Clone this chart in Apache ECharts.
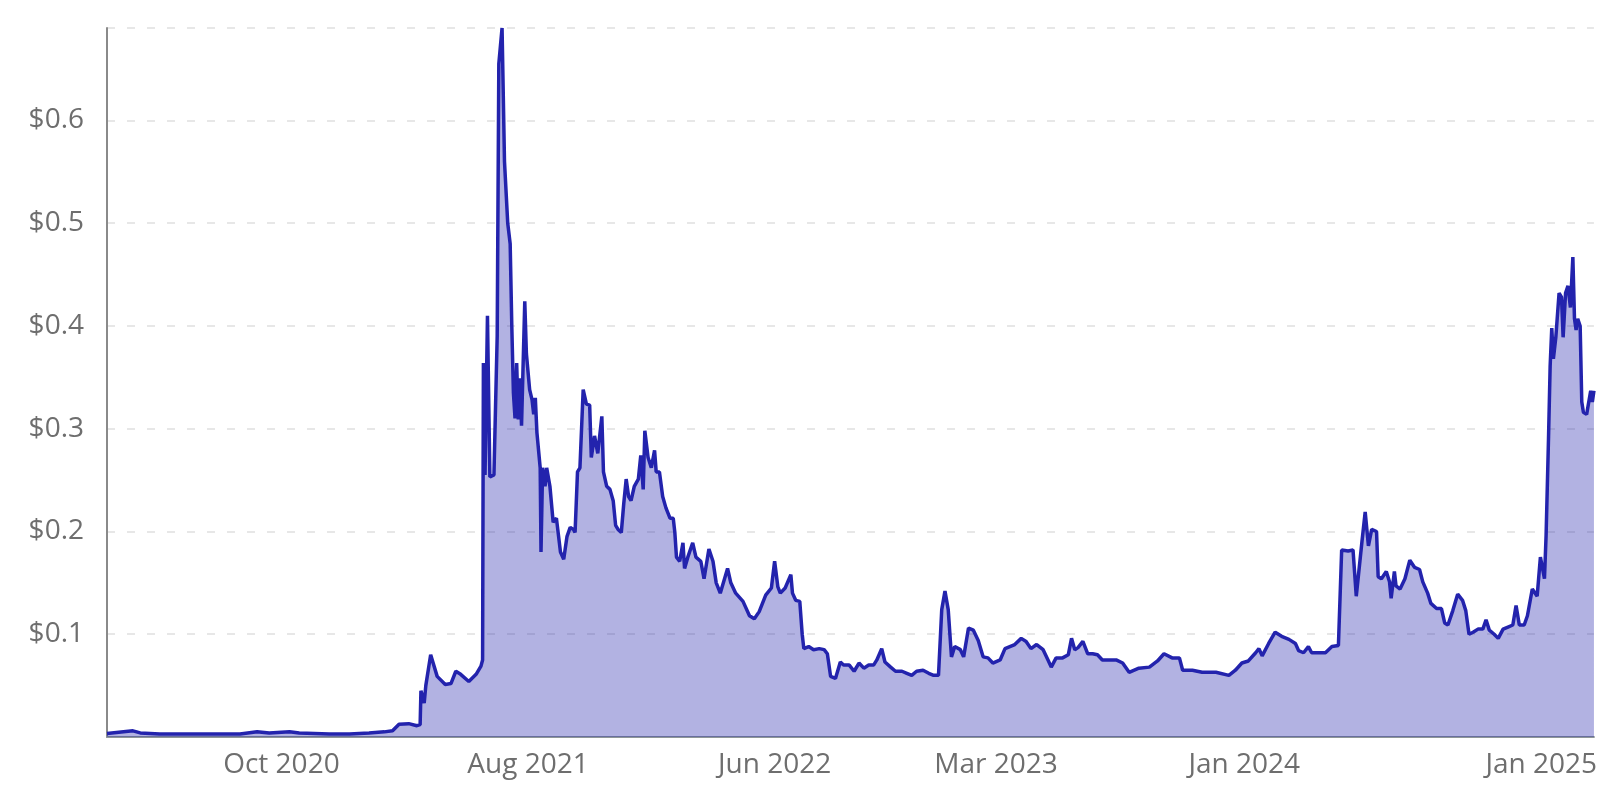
<!DOCTYPE html>
<html>
<head>
<meta charset="utf-8">
<title>Price chart</title>
<script src="https://cdn.jsdelivr.net/npm/echarts@6/dist/echarts.min.js"></script>
<style>
  html, body { margin: 0; padding: 0; background: #fff; }
  #priceChart { width: 1600px; height: 788px; }
</style>
</head>
<body>
<div id="priceChart"></div>
<script>
// values
var dates = [
  '2020-02-29', '2020-04-01', '2020-04-10', '2020-05-04', '2020-06-22', '2020-08-11', '2020-09-01', '2020-09-16',
  '2020-10-11', '2020-10-23', '2020-11-29', '2020-12-24', '2021-01-17', '2021-02-05', '2021-02-15', '2021-02-23',
  '2021-03-07', '2021-03-17', '2021-03-21', '2021-03-22', '2021-03-26', '2021-03-28', '2021-04-03', '2021-04-11',
  '2021-04-21', '2021-04-28', '2021-05-04', '2021-05-10', '2021-05-20', '2021-05-29', '2021-06-04', '2021-06-06',
  '2021-06-07', '2021-06-09', '2021-06-12', '2021-06-15', '2021-06-20', '2021-06-22', '2021-06-24', '2021-06-26',
  '2021-06-30', '2021-07-03', '2021-07-05', '2021-07-07', '2021-07-10', '2021-07-12', '2021-07-14', '2021-07-16',
  '2021-07-18', '2021-07-20', '2021-07-22', '2021-07-24', '2021-07-28', '2021-07-30', '2021-08-03', '2021-08-06',
  '2021-08-08', '2021-08-10', '2021-08-12', '2021-08-16', '2021-08-17', '2021-08-19', '2021-08-22', '2021-08-24',
  '2021-08-28', '2021-09-01', '2021-09-05', '2021-09-10', '2021-09-14', '2021-09-18', '2021-09-22', '2021-09-26',
  '2021-09-28', '2021-10-01', '2021-10-04', '2021-10-08', '2021-10-12', '2021-10-16', '2021-10-18', '2021-10-22',
  '2021-10-26', '2021-10-31', '2021-11-02', '2021-11-06', '2021-11-10', '2021-11-14', '2021-11-17', '2021-11-20',
  '2021-11-24', '2021-11-27', '2021-11-30', '2021-12-03', '2021-12-06', '2021-12-10', '2021-12-15', '2021-12-18',
  '2021-12-21', '2021-12-23', '2021-12-27', '2021-12-31', '2022-01-04', '2022-01-06', '2022-01-10', '2022-01-14',
  '2022-01-18', '2022-01-23', '2022-01-27', '2022-01-29', '2022-01-31', '2022-02-04', '2022-02-08', '2022-02-10',
  '2022-02-14', '2022-02-20', '2022-02-24', '2022-03-02', '2022-03-06', '2022-03-12', '2022-03-17', '2022-03-21',
  '2022-03-26', '2022-04-04', '2022-04-08', '2022-04-14', '2022-04-23', '2022-05-01', '2022-05-07', '2022-05-13',
  '2022-05-21', '2022-05-28', '2022-06-01', '2022-06-05', '2022-06-08', '2022-06-14', '2022-06-21', '2022-06-23',
  '2022-06-27', '2022-07-02', '2022-07-05', '2022-07-07', '2022-07-13', '2022-07-19', '2022-07-26', '2022-08-01',
  '2022-08-05', '2022-08-09', '2022-08-15', '2022-08-21', '2022-08-25', '2022-09-01', '2022-09-07', '2022-09-13',
  '2022-09-19', '2022-09-25', '2022-10-01', '2022-10-05', '2022-10-11', '2022-10-15', '2022-10-22', '2022-10-28',
  '2022-11-05', '2022-11-11', '2022-11-17', '2022-11-23', '2022-12-01', '2022-12-08', '2022-12-14', '2022-12-20',
  '2022-12-24', '2022-12-28', '2023-01-01', '2023-01-05', '2023-01-09', '2023-01-16', '2023-01-20', '2023-01-26',
  '2023-02-01', '2023-02-07', '2023-02-13', '2023-02-19', '2023-02-25', '2023-03-06', '2023-03-12', '2023-03-18',
  '2023-03-24', '2023-04-01', '2023-04-07', '2023-04-13', '2023-04-20', '2023-04-28', '2023-05-04', '2023-05-08',
  '2023-05-14', '2023-05-22', '2023-05-29', '2023-06-02', '2023-06-06', '2023-06-10', '2023-06-16', '2023-06-22',
  '2023-06-28', '2023-07-04', '2023-07-10', '2023-07-14', '2023-07-27', '2023-08-04', '2023-08-12', '2023-08-24',
  '2023-09-06', '2023-09-16', '2023-09-24', '2023-10-04', '2023-10-13', '2023-10-17', '2023-10-29', '2023-11-10',
  '2023-11-27', '2023-12-13', '2023-12-21', '2023-12-29', '2024-01-06', '2024-01-15', '2024-01-19', '2024-01-23',
  '2024-01-31', '2024-02-08', '2024-02-16', '2024-02-25', '2024-03-04', '2024-03-08', '2024-03-14', '2024-03-20',
  '2024-03-24', '2024-04-01', '2024-04-10', '2024-04-18', '2024-04-26', '2024-04-30', '2024-05-08', '2024-05-14',
  '2024-05-18', '2024-05-25', '2024-05-29', '2024-06-02', '2024-06-06', '2024-06-12', '2024-06-14', '2024-06-18',
  '2024-06-24', '2024-06-28', '2024-06-30', '2024-07-04', '2024-07-06', '2024-07-11', '2024-07-17', '2024-07-23',
  '2024-07-29', '2024-08-04', '2024-08-08', '2024-08-14', '2024-08-18', '2024-08-25', '2024-08-31', '2024-09-04',
  '2024-09-08', '2024-09-14', '2024-09-20', '2024-09-26', '2024-09-30', '2024-10-04', '2024-10-09', '2024-10-15',
  '2024-10-21', '2024-10-25', '2024-10-29', '2024-11-04', '2024-11-09', '2024-11-15', '2024-11-21', '2024-11-27',
  '2024-12-01', '2024-12-05', '2024-12-11', '2024-12-15', '2024-12-21', '2024-12-27', '2024-12-31', '2025-01-05',
  '2025-01-07', '2025-01-10', '2025-01-12', '2025-01-14', '2025-01-16', '2025-01-19', '2025-01-23', '2025-01-26',
  '2025-01-28', '2025-01-31', '2025-02-03', '2025-02-06', '2025-02-09', '2025-02-11', '2025-02-13', '2025-02-15',
  '2025-02-18', '2025-02-20', '2025-02-22', '2025-02-26', '2025-03-03', '2025-03-05', '2025-03-07'
]

var prices = [
  0.0035, 0.006, 0.004, 0.003, 0.003, 0.003, 0.005, 0.004,
  0.005, 0.004, 0.003, 0.003, 0.004, 0.005, 0.006, 0.0125,
  0.013, 0.011, 0.012, 0.045, 0.033, 0.05, 0.080, 0.059,
  0.051, 0.052, 0.064, 0.061, 0.054, 0.061, 0.069, 0.075,
  0.364, 0.255, 0.41, 0.253, 0.255, 0.323, 0.39, 0.655,
  0.69, 0.56, 0.56, 0.50, 0.48, 0.40, 0.335, 0.31,
  0.364, 0.309, 0.349, 0.303, 0.424, 0.373, 0.338, 0.328,
  0.314, 0.33, 0.296, 0.262, 0.18, 0.262, 0.244, 0.262,
  0.244, 0.209, 0.213, 0.18, 0.173, 0.195, 0.204, 0.202,
  0.199, 0.258, 0.262, 0.338, 0.324, 0.323, 0.272, 0.293,
  0.276, 0.312, 0.258, 0.244, 0.241, 0.23, 0.206, 0.202,
  0.199, 0.227, 0.251, 0.234, 0.23, 0.244, 0.251, 0.274,
  0.241, 0.298, 0.272, 0.262, 0.279, 0.258, 0.258, 0.234,
  0.223, 0.213, 0.213, 0.199, 0.175, 0.171, 0.189, 0.164,
  0.175, 0.189, 0.175, 0.171, 0.154, 0.183, 0.171, 0.15,
  0.14, 0.164, 0.15, 0.14, 0.132, 0.118, 0.115, 0.122,
  0.138, 0.145, 0.171, 0.146, 0.14, 0.145, 0.158, 0.14,
  0.133, 0.132, 0.10, 0.086, 0.088, 0.085, 0.086, 0.085,
  0.081, 0.059, 0.057, 0.073, 0.07, 0.07, 0.064, 0.072,
  0.067, 0.07, 0.07, 0.075, 0.086, 0.073, 0.068, 0.064,
  0.064, 0.062, 0.06, 0.064, 0.065, 0.062, 0.06, 0.06,
  0.124, 0.142, 0.124, 0.078, 0.088, 0.085, 0.078, 0.106,
  0.104, 0.094, 0.078, 0.077, 0.072, 0.075, 0.086, 0.088,
  0.09, 0.096, 0.093, 0.086, 0.09, 0.085, 0.075, 0.068,
  0.077, 0.077, 0.08, 0.096, 0.085, 0.087, 0.093, 0.081,
  0.081, 0.08, 0.075, 0.075, 0.075, 0.072, 0.063, 0.067,
  0.068, 0.074, 0.081, 0.077, 0.077, 0.065, 0.065, 0.063,
  0.063, 0.06, 0.065, 0.072, 0.074, 0.082, 0.086, 0.079,
  0.091, 0.102, 0.098, 0.095, 0.091, 0.084, 0.082, 0.088,
  0.082, 0.082, 0.082, 0.088, 0.089, 0.182, 0.181, 0.182,
  0.137, 0.19, 0.219, 0.186, 0.202, 0.2, 0.156, 0.154,
  0.161, 0.151, 0.135, 0.161, 0.147, 0.144, 0.154, 0.172,
  0.165, 0.163, 0.151, 0.14, 0.13, 0.125, 0.125, 0.111,
  0.109, 0.123, 0.139, 0.133, 0.123, 0.1, 0.102, 0.105,
  0.105, 0.114, 0.104, 0.1, 0.096, 0.105, 0.107, 0.109,
  0.128, 0.109, 0.109, 0.118, 0.144, 0.137, 0.175, 0.154,
  0.196, 0.291, 0.361, 0.398, 0.368, 0.389, 0.432, 0.428,
  0.389, 0.432, 0.439, 0.418, 0.467, 0.407, 0.396, 0.407,
  0.4, 0.326, 0.316, 0.314, 0.337, 0.326, 0.337
]

var tickDates = ['2020-10-01', '2021-08-01', '2022-06-01', '2023-03-01', '2024-01-01', '2025-01-01']
var tickLabels = ['Oct 2020', 'Aug 2021', 'Jun 2022', 'Mar 2023', 'Jan 2024', 'Jan 2025']

var rangeStart = '2020-02-29'
var rangeEnd = '2025-03-07'

function toTime (s) {
  return new Date(s + 'T00:00:00').getTime()
}

var tickTimes = tickDates.map(toTime)
var seriesData = dates.map(function (d, i) {
  return [toTime(d), prices[i]]
})

var labelFont = {
  color: '#6e6e6e',
  fontSize: 28,
  fontFamily: '"Open Sans", "Noto Sans", sans-serif'
}

var myChart = echarts.init(document.getElementById('priceChart'))
myChart.setOption({
  animation: false,
  grid: {
    left: 107,
    right: 0,
    top: 28,
    bottom: 51
  },
  xAxis: {
    // dates kept as timestamps on a value axis so the labels can sit on chosen days
    type: 'value',
    min: toTime(rangeStart),
    max: toTime(rangeEnd),
    axisLine: {
      lineStyle: { color: '#8e9696', width: 2 }
    },
    axisTick: { show: false },
    splitLine: { show: false },
    axisLabel: Object.assign({
      margin: 14,
      customValues: tickTimes,
      formatter: function (v) {
        var i = tickTimes.indexOf(v)
        return i >= 0 ? tickLabels[i] : ''
      }
    }, labelFont)
  },
  yAxis: {
    type: 'value',
    min: 0,
    max: 0.69,
    interval: 0.1,
    axisLine: {
      show: true,
      lineStyle: { color: '#8a8a8a', width: 2 }
    },
    axisTick: { show: false },
    splitLine: {
      lineStyle: { color: '#e0e0e0', width: 1.5, type: [8, 12] }
    },
    axisLabel: Object.assign({
      margin: 23,
      showMinLabel: false,
      showMaxLabel: false,
      formatter: function (v) {
        return '$' + v.toFixed(1)
      }
    }, labelFont)
  },
  series: [
    {
      type: 'line',
      data: seriesData,
      showSymbol: false,
      symbol: 'none',
      lineStyle: { color: '#2323ad', width: 3.5 },
      itemStyle: { color: '#2323ad' },
      areaStyle: { color: '#2323ad', opacity: 0.35 }
    }
  ]
})
</script>
</body>
</html>
